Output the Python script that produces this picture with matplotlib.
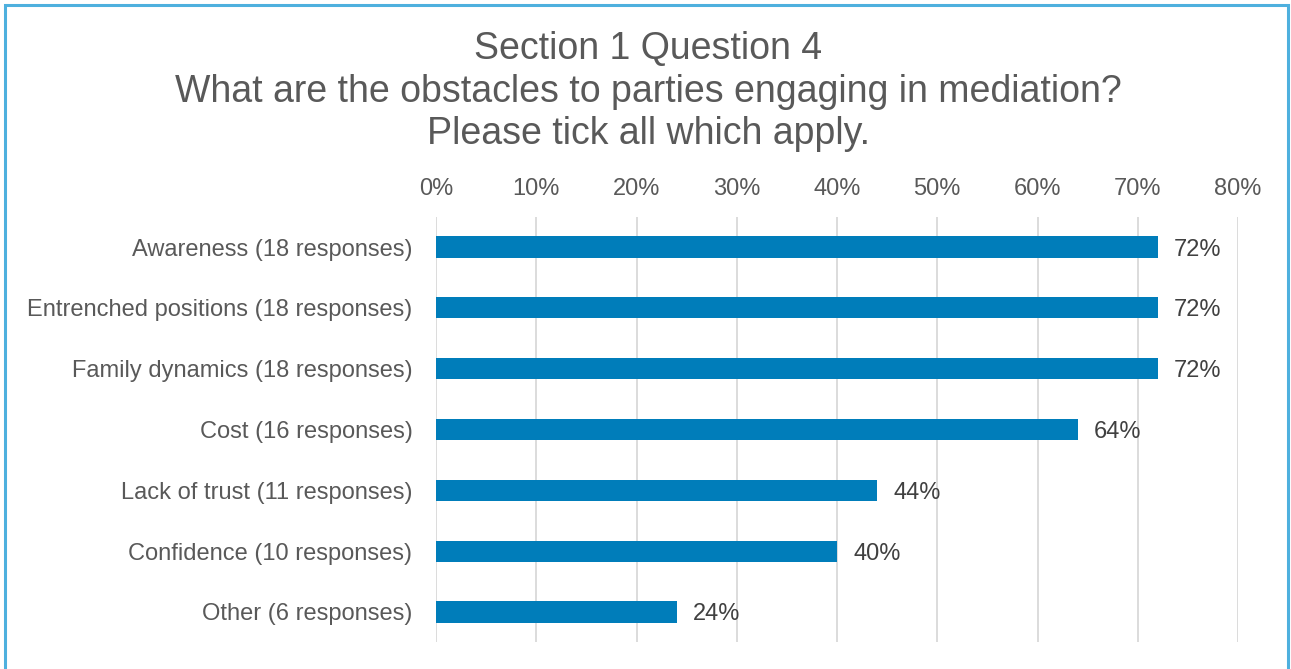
import matplotlib
matplotlib.use("Agg")
import matplotlib.pyplot as plt
from matplotlib.patches import Rectangle
from matplotlib.ticker import PercentFormatter

categories = [
    "Awareness (18 responses)",
    "Entrenched positions (18 responses)",
    "Family dynamics (18 responses)",
    "Cost (16 responses)",
    "Lack of trust (11 responses)",
    "Confidence (10 responses)",
    "Other (6 responses)",
]
shares = [72, 72, 72, 64, 44, 40, 24]
xticks = [0, 10, 20, 30, 40, 50, 60, 70, 80]

title = ("Section 1 Question 4\n"
         "What are the obstacles to parties engaging in mediation?\n"
         "Please tick all which apply.")

plt.rcParams["font.family"] = ["Liberation Sans", "DejaVu Sans"]

W, H = 1291, 669
fig = plt.figure(figsize=(W / 100, H / 100), dpi=100)
fig.patch.set_facecolor("white")

# outer frame
fig.patches.append(Rectangle((5 / W, -0.01), (W - 8) / W, 1 - 5 / H + 0.01 - 0.0005,
                             transform=fig.transFigure, fill=False,
                             edgecolor="#4EB0DE", linewidth=2.2))

ax = fig.add_axes([436 / W, 1 - 642.4 / H, (1238 - 436) / W, (642.4 - 216.6) / H])
y = list(range(len(categories)))
ax.barh(y, shares, height=0.35, color="#007DBA", zorder=3)
for yi, v in zip(y, shares):
    ax.text(v + 1.6, yi, f"{v}%", va="center_baseline", ha="left",
            fontsize=17, color="#404040")

ax.set_xlim(0, 80)
ax.set_ylim(len(categories) - 0.5, -0.5)
ax.set_yticks(y)
ax.set_yticklabels(categories)
ax.set_xticks(xticks)
ax.xaxis.set_major_formatter(PercentFormatter(decimals=0))
ax.xaxis.tick_top()
ax.tick_params(axis="both", length=0, labelsize=17, labelcolor="#595959")
ax.tick_params(axis="x", pad=12)
ax.tick_params(axis="y", pad=17)
ax.grid(axis="x", color="#D9D9D9", linewidth=1.3, zorder=0)
for s in ax.spines.values():
    s.set_visible(False)

fig.text(0.502, 1 - 31 / H, title, ha="center", va="top", fontsize=27,
         color="#595959", linespacing=1.24)

fig.savefig("out.png", dpi=100)
